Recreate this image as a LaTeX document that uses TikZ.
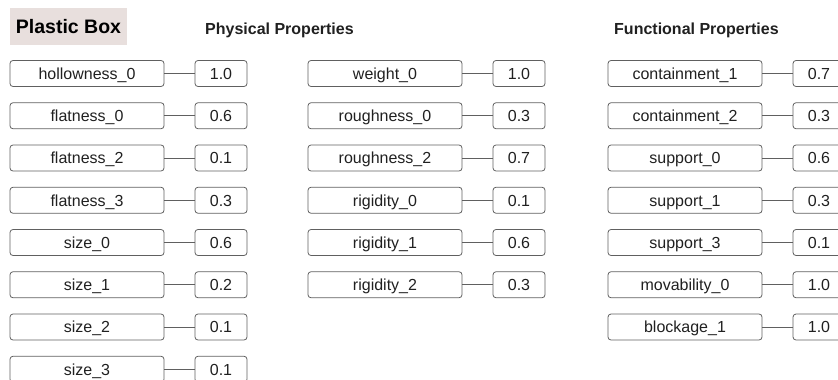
\documentclass[tikz,border=0pt]{standalone}
\usepackage{fontspec}
\setmainfont{Liberation Sans}

\definecolor{titlebg}{HTML}{E8DFDD}
\definecolor{boxline}{HTML}{606060}
\definecolor{textcol}{HTML}{202020}

\tikzset{
    namebox/.style={draw=boxline, rounded corners=3pt, line width=0.8pt,
        minimum width=154, minimum height=26, inner sep=0pt,
        text height=11.6pt, text depth=0pt,
        text=textcol, font=\fontsize{16}{19}\selectfont},
    valbox/.style={namebox, minimum width=52},
    heading/.style={anchor=west, inner sep=0pt, text=textcol,
        text height=11.6pt, text depth=0pt,
        font=\fontsize{16}{19}\selectfont\bfseries},
    link/.style={draw=boxline, line width=0.8pt}
}

\begin{document}
\begin{tikzpicture}[x=1pt, y=-1pt]
        \useasboundingbox (0,0) rectangle (838,380);

        % title and headings
        \node[fill=titlebg, minimum width=117, minimum height=37, inner sep=0pt,
              text height=14pt, text depth=0pt,
              text=black, font=\fontsize{19.5}{22}\selectfont\bfseries] (title) at (68.5,26.5) {Plastic Box};
        \node[heading] (physical) at (205,28.7) {Physical Properties};
        \node[heading] (functional) at (614,28.7) {Functional Properties};

        % physical properties, first column
        \node[namebox] (hollow0) at (87,73.5) {hollowness\_0};
        \node[valbox] (hollow0v) at (221,73.5) {1.0};
        \node[namebox] (flat0) at (87,115.75) {flatness\_0};
        \node[valbox] (flat0v) at (221,115.75) {0.6};
        \node[namebox] (flat2) at (87,158) {flatness\_2};
        \node[valbox] (flat2v) at (221,158) {0.1};
        \node[namebox] (flat3) at (87,200.25) {flatness\_3};
        \node[valbox] (flat3v) at (221,200.25) {0.3};
        \node[namebox] (size0) at (87,242.5) {size\_0};
        \node[valbox] (size0v) at (221,242.5) {0.6};
        \node[namebox] (size1) at (87,284.75) {size\_1};
        \node[valbox] (size1v) at (221,284.75) {0.2};
        \node[namebox] (size2) at (87,327) {size\_2};
        \node[valbox] (size2v) at (221,327) {0.1};
        \node[namebox] (size3) at (87,369.25) {size\_3};
        \node[valbox] (size3v) at (221,369.25) {0.1};

        % physical properties, second column
        \node[namebox] (weight0) at (385,73.5) {weight\_0};
        \node[valbox] (weight0v) at (519,73.5) {1.0};
        \node[namebox] (rough0) at (385,115.75) {roughness\_0};
        \node[valbox] (rough0v) at (519,115.75) {0.3};
        \node[namebox] (rough2) at (385,158) {roughness\_2};
        \node[valbox] (rough2v) at (519,158) {0.7};
        \node[namebox] (rigid0) at (385,200.25) {rigidity\_0};
        \node[valbox] (rigid0v) at (519,200.25) {0.1};
        \node[namebox] (rigid1) at (385,242.5) {rigidity\_1};
        \node[valbox] (rigid1v) at (519,242.5) {0.6};
        \node[namebox] (rigid2) at (385,284.75) {rigidity\_2};
        \node[valbox] (rigid2v) at (519,284.75) {0.3};

        % functional properties
        \node[namebox] (contain1) at (685,73.5) {containment\_1};
        \node[valbox] (contain1v) at (819,73.5) {0.7};
        \node[namebox] (contain2) at (685,115.75) {containment\_2};
        \node[valbox] (contain2v) at (819,115.75) {0.3};
        \node[namebox] (support0) at (685,158) {support\_0};
        \node[valbox] (support0v) at (819,158) {0.6};
        \node[namebox] (support1) at (685,200.25) {support\_1};
        \node[valbox] (support1v) at (819,200.25) {0.3};
        \node[namebox] (support3) at (685,242.5) {support\_3};
        \node[valbox] (support3v) at (819,242.5) {0.1};
        \node[namebox] (move0) at (685,284.75) {movability\_0};
        \node[valbox] (move0v) at (819,284.75) {1.0};
        \node[namebox] (block1) at (685,327) {blockage\_1};
        \node[valbox] (block1v) at (819,327) {1.0};

        % links
        \draw[link] (hollow0) -- (hollow0v);
        \draw[link] (flat0) -- (flat0v);
        \draw[link] (flat2) -- (flat2v);
        \draw[link] (flat3) -- (flat3v);
        \draw[link] (size0) -- (size0v);
        \draw[link] (size1) -- (size1v);
        \draw[link] (size2) -- (size2v);
        \draw[link] (size3) -- (size3v);

        \draw[link] (weight0) -- (weight0v);
        \draw[link] (rough0) -- (rough0v);
        \draw[link] (rough2) -- (rough2v);
        \draw[link] (rigid0) -- (rigid0v);
        \draw[link] (rigid1) -- (rigid1v);
        \draw[link] (rigid2) -- (rigid2v);

        \draw[link] (contain1) -- (contain1v);
        \draw[link] (contain2) -- (contain2v);
        \draw[link] (support0) -- (support0v);
        \draw[link] (support1) -- (support1v);
        \draw[link] (support3) -- (support3v);
        \draw[link] (move0) -- (move0v);
        \draw[link] (block1) -- (block1v);

    \end{tikzpicture}
\end{document}
